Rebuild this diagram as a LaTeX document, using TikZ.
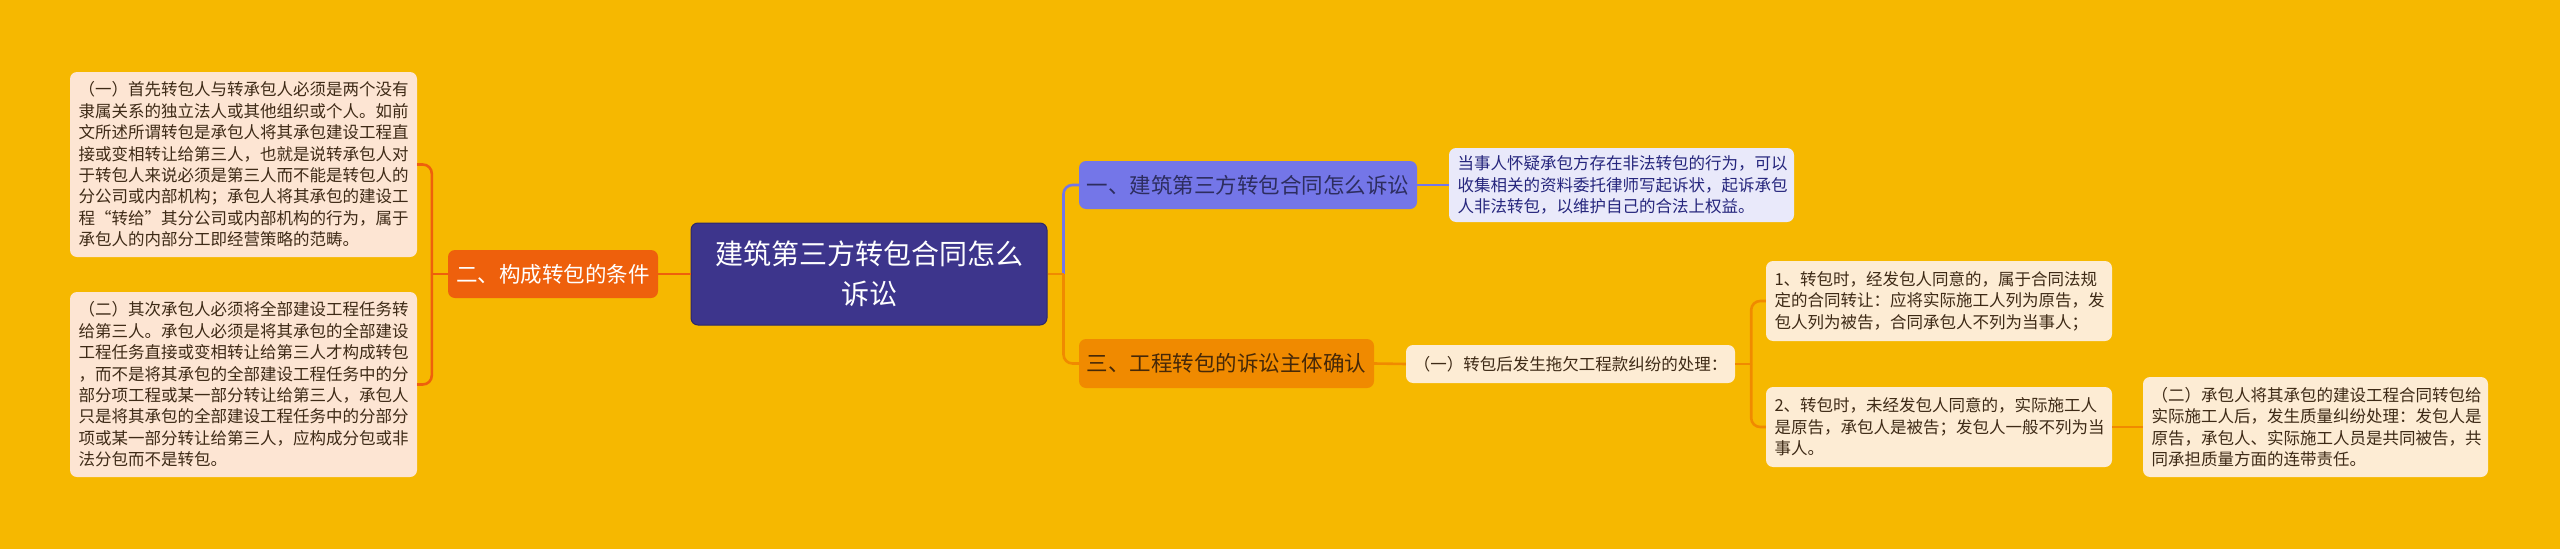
\documentclass[tikz,border=0pt]{standalone}
\usepackage{fontspec}
\setmainfont{Noto Sans CJK SC}
\definecolor{bg}{RGB}{246,184,0}
\definecolor{rootfill}{RGB}{61,53,140}
\definecolor{rootdraw}{RGB}{45,40,105}
\definecolor{redorange}{RGB}{238,96,12}
\definecolor{periw}{RGB}{116,118,232}
\definecolor{amber}{RGB}{240,138,0}
\definecolor{peach}{RGB}{253,229,211}
\definecolor{cream}{RGB}{253,236,212}
\definecolor{lavender}{RGB}{233,233,250}
\definecolor{leaftext}{RGB}{62,42,22}
\definecolor{navytext}{RGB}{38,38,125}
\definecolor{b1text}{RGB}{45,45,95}
\definecolor{b3text}{RGB}{70,40,8}
\begin{document}
\begin{tikzpicture}[x=1pt,y=-1pt,
  leaf/.style={rounded corners=7pt, inner sep=0pt, align=left,
    font=\fontsize{16.5}{21.4}\selectfont, text=leaftext},
  branch/.style={rounded corners=7pt, inner sep=0pt, align=center,
    font=\fontsize{21.5}{26}\selectfont},
  conn/.style={line width=2.6pt},
  rconn/.style={conn, rounded corners=9pt}]
\fill[bg] (0,0) rectangle (2560,549);
\useasboundingbox (0,0) rectangle (2560,549);

% root
\node[rounded corners=7pt, fill=rootfill, draw=rootdraw, line width=1pt, inner sep=0pt,
  minimum width=356pt, minimum height=102pt, text width=340pt, align=center,
  text=white, font=\fontsize{28}{40}\selectfont] (root) at (869,274)
  {建筑第三方转包合同怎么\\诉讼};

% left branch
\node[branch, fill=redorange, text=white, minimum width=210pt, minimum height=48pt] (b2) at (553,274) {二、构成转包的条件};
\node[leaf, fill=peach, minimum width=347pt, minimum height=185pt, text width=330pt] (L1) at (243.5,164.5)
 {（一）首先转包人与转承包人必须是两个没有\\
 隶属关系的独立法人或其他组织或个人。如前\\
 文所述所谓转包是承包人将其承包建设工程直\\
 接或变相转让给第三人，也就是说转承包人对\\
 于转包人来说必须是第三人而不能是转包人的\\
 分公司或内部机构；承包人将其承包的建设工\\
 程“转给”其分公司或内部机构的行为，属于\\
 承包人的内部分工即经营策略的范畴。};
\node[leaf, fill=peach, minimum width=347pt, minimum height=185pt, text width=330pt] (L2) at (243.5,384.5)
 {（二）其次承包人必须将全部建设工程任务转\\
 给第三人。承包人必须是将其承包的全部建设\\
 工程任务直接或变相转让给第三人才构成转包\\
 ，而不是将其承包的全部建设工程任务中的分\\
 部分项工程或某一部分转让给第三人，承包人\\
 只是将其承包的全部建设工程任务中的分部分\\
 项或某一部分转让给第三人，应构成分包或非\\
 法分包而不是转包。};

% right branches
\node[branch, fill=periw, text=b1text, minimum width=338pt, minimum height=48pt] (b1) at (1248,185) {一、建筑第三方转包合同怎么诉讼};
\node[leaf, fill=lavender, text=navytext, minimum width=345pt, minimum height=74pt, text width=328pt] (R1) at (1621.5,185)
 {当事人怀疑承包方存在非法转包的行为，可以\\
 收集相关的资料委托律师写起诉状，起诉承包\\
 人非法转包，以维护自己的合法上权益。};

\node[branch, fill=amber, text=b3text, minimum width=295pt, minimum height=49pt] (b3) at (1226.5,363.5) {三、工程转包的诉讼主体确认};
\node[leaf, fill=cream, align=center, minimum width=329pt, minimum height=38pt] (sub) at (1570.5,364)
 {（一）转包后发生拖欠工程款纠纷的处理：};
\node[leaf, fill=cream, minimum width=346pt, minimum height=80pt, text width=329pt] (I1) at (1939,301)
 {1、转包时，经发包人同意的，属于合同法规\\
 定的合同转让：应将实际施工人列为原告，发\\
 包人列为被告，合同承包人不列为当事人；};
\node[leaf, fill=cream, minimum width=346pt, minimum height=80pt, text width=329pt] (I2) at (1939,427)
 {2、转包时，未经发包人同意的，实际施工人\\
 是原告，承包人是被告；发包人一般不列为当\\
 事人。};
\node[leaf, fill=cream, minimum width=345pt, minimum height=100pt, text width=328pt] (I3) at (2315.5,427)
 {（二）承包人将其承包的建设工程合同转包给\\
 实际施工人后，发生质量纠纷处理：发包人是\\
 原告，承包人、实际施工人员是共同被告，共\\
 同承担质量方面的连带责任。};

% spine coordinates
\coordinate (sL) at ([xshift=-16pt]b2.west);
\coordinate (sR) at ([xshift=16pt]root.east);
\coordinate (sS) at ([xshift=16pt]sub.east);

% connectors
\draw[conn, redorange] (root.west) -- (b2.east);
\draw[conn, redorange] (b2.west) -- (sL);
\draw[rconn, redorange] (sL) |- (L1.east);
\draw[rconn, redorange] (sL) |- (L2.east);

\draw[rconn, periw] (sR) |- (b1.west);
\draw[rconn, amber] (sR) |- (b3.west);
\draw[conn, amber] (root.east) -- (sR);
\draw[conn, periw] (b1.east) -- (R1.west);
\draw[conn, amber] (b3.east) -- (sub.west);
\draw[conn, amber] (sub.east) -- (sS);
\draw[rconn, amber] (sS) |- (I1.west);
\draw[rconn, amber] (sS) |- (I2.west);
\draw[conn, amber] (I2.east) -- (I3.west);
\end{tikzpicture}
\end{document}
